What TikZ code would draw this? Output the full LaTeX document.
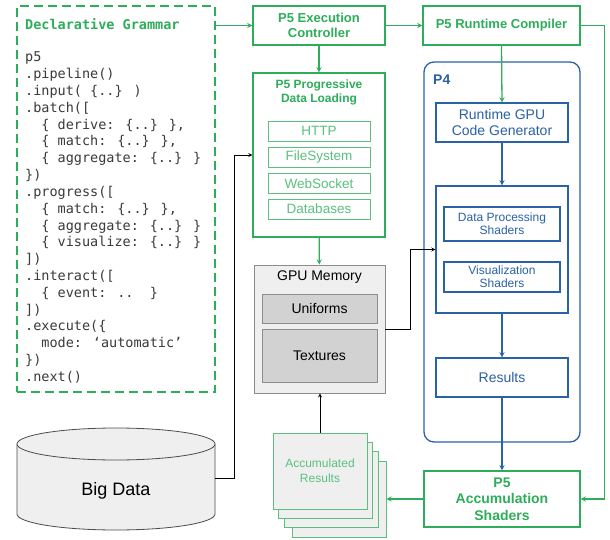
\documentclass[tikz,border=0pt]{standalone}
\usepackage{fontspec}
\setmainfont{Liberation Sans}
\newfontfamily\codefont{DejaVu Sans Mono}
\usepackage{xcolor}
\usepackage{tikz}
\usetikzlibrary{arrows,positioning,calc}

\definecolor{pfgreen}{HTML}{2EAD5B}
\definecolor{pflight}{HTML}{5BC07E}
\definecolor{pfblue}{HTML}{2A62A6}
\definecolor{codegray}{HTML}{3A3A3A}
\definecolor{memfill}{HTML}{EFEFEF}
\definecolor{memdark}{HTML}{D2D2D2}

\begin{document}
\begin{tikzpicture}[
  x=1pt, y=-1pt,
  gbox/.style={draw=pfgreen, line width=1.3pt, fill=white, inner sep=0pt, align=center, text=pfgreen, font=\fontsize{13}{15}\selectfont\bfseries},
  src/.style={draw=pflight, line width=0.8pt, minimum width=102, minimum height=20, inner sep=0pt, text=pflight, font=\fontsize{13.5}{16}\selectfont},
  bbox/.style={draw=pfblue, line width=1.2pt, fill=white, inner sep=0pt, align=center, text=pfblue, font=\fontsize{14}{16.7}\selectfont},
  shd/.style={bbox, font=\fontsize{12}{13.3}\selectfont},
  membox/.style={draw=black!45, line width=0.8pt, fill=memdark, inner sep=0pt, minimum width=115, font=\fontsize{14}{16}\selectfont},
  paper/.style={draw=pflight, line width=0.9pt, fill=memfill, minimum width=94, minimum height=76, inner sep=0pt},
  code/.style={anchor=base west, inner sep=0pt, text=codegray, font=\codefont\fontsize{13.5}{16.8}\selectfont},
  garrow/.style={->, >=stealth, draw=pfgreen, line width=1.3pt},
  barrow/.style={->, >=stealth, draw=pfblue, line width=1.3pt},
  karrow/.style={->, >=stealth, line width=0.8pt}
]
  \useasboundingbox (0,0) rectangle (610,540);

  % Grammar listing
  \node[draw=pfgreen, line width=1.3pt, dash pattern=on 9pt off 5pt, minimum width=198, minimum height=386, inner sep=0pt] (gram) at (116,199) {};
  \node[anchor=west, inner sep=0pt, text=pfgreen, font=\codefont\bfseries\fontsize{13.5}{16}\selectfont] (gramtitle) at (25,24) {Declarative Grammar};
  \foreach \i/\ln in {0/p5, 1/.pipeline(), 2/{.input( \{..\} )}, 3/{.batch([},
      4/{\phantom{xx}\{ derive: \{..\} \},}, 5/{\phantom{xx}\{ match: \{..\} \},},
      6/{\phantom{xx}\{ aggregate: \{..\} \}}, 7/{\})}, 8/{.progress([},
      9/{\phantom{xx}\{ match: \{..\} \},}, 10/{\phantom{xx}\{ aggregate: \{..\} \}},
      11/{\phantom{xx}\{ visualize: \{..\} \}}, 12/{])}, 13/{.interact([},
      14/{\phantom{xx}\{ event: ..\phantom{xx}\}}, 15/{])}, 16/{.execute(\{},
      17/{\phantom{xx}mode: ‘automatic’}, 18/{\})}, 19/.next()} {
    \node[code] (ln\i) at (25,{62+16.8*\i}) {\ln};
  }

  % Top row
  \node[gbox, minimum width=132, minimum height=39] (exec) at (319,25.5) {P5 Execution\\Controller};
  \node[gbox, minimum width=157, minimum height=39] (comp) at (501.5,25.5) {P5 Runtime Compiler};

  % Progressive data loading
  \node[gbox, minimum width=132, minimum height=164] (load) at (319,155) {};
  \node[align=center, inner sep=0pt, text=pfgreen, font=\fontsize{12}{14}\selectfont\bfseries] (loadtitle) at (319,92) {P5 Progressive\\Data Loading};
  \foreach \y/\n/\t in {131/http/HTTP, 157.5/fs/FileSystem, 183.5/ws/WebSocket, 209/db/Databases}
    \node[src] (\n) at (319,\y) {\t};

  % GPU memory
  \node[draw=black!45, line width=0.8pt, fill=memfill, minimum width=131, minimum height=128, inner sep=0pt] (gpu) at (319.5,329) {};
  \node[inner sep=0pt, font=\fontsize{14}{16}\selectfont] (gpulabel) at (319.5,277) {GPU Memory};
  \node[membox, minimum height=29] (unif) at (319.5,308.5) {Uniforms};
  \node[membox, minimum height=53] (tex) at (319.5,355.5) {Textures};

  % P4 block
  \node[draw=pfblue, line width=1.3pt, rounded corners=10pt, minimum width=156, minimum height=380, inner sep=0pt] (p4) at (502,252) {};
  \node[anchor=west, inner sep=0pt, text=pfblue, font=\fontsize{14}{16}\selectfont\bfseries] (p4label) at (433,80) {P4};
  \node[bbox, minimum width=132, minimum height=39] (codegen) at (502,122.5) {Runtime GPU\\Code Generator};
  \node[bbox, minimum width=132, minimum height=127] (shaders) at (502,249.5) {};
  \node[shd, minimum width=116, minimum height=34] (dps) at (502,224) {Data Processing\\Shaders};
  \node[shd, minimum width=116, minimum height=30] (vis) at (502,277) {Visualization\\Shaders};
  \node[bbox, minimum width=132, minimum height=39] (results) at (502,377.5) {Results};

  % Accumulation
  \node[gbox, minimum width=156, minimum height=56, font=\fontsize{14}{16.7}\selectfont\bfseries] (accum) at (502,499) {P5\\Accumulation\\Shaders};
  \foreach \dx/\dy/\n in {19/28/c, 11/18/b, 5/9/a}
    \node[paper] (stack\n) at ({320+\dx},{471+\dy}) {};
  \node[paper, align=center, text=pflight, font=\fontsize{12}{14.7}\selectfont] (stack) at (320,471) {Accumulated\\Results};

  % Big data store
  \fill[memfill] (17,444) -- (17,514) arc[start angle=180, end angle=360, x radius=99pt, y radius=16pt] -- (215,444) -- cycle;
  \draw[line width=0.8pt, black!70] (17,444) -- (17,514) arc[start angle=180, end angle=360, x radius=99pt, y radius=16pt] -- (215,444);
  \draw[line width=0.8pt, black!70, fill=memfill] (116,444) ellipse[x radius=99pt, y radius=16pt];
  \node[inner sep=0pt, font=\fontsize{18}{20}\selectfont] (bigdata) at (116,491) {Big Data};
  \coordinate (dbout) at (215,478);

  % Green flow
  \draw[garrow] (gram.north east |- exec.west) -- (exec.west);
  \draw[garrow] (exec) -- (comp);
  \draw[garrow] (exec) -- (load);
  \draw[garrow] (load) -- (gpu);
  \draw[garrow] (comp.south) -- (codegen.north);
  \draw[garrow] (comp.east) -- ++(24,0) |- (accum.east);
  \draw[garrow] (accum.west) -- (stackc.east);

  % Blue flow
  \draw[barrow] (codegen) -- (shaders);
  \draw[barrow] (shaders) -- (results);
  \draw[barrow] (results) -- (accum);

  % Black links
  \draw[karrow] (dbout) -- ++(19,0) |- (load.west);
  \draw[karrow] (gpu.east) -| ($(gpu.east)!.5!(shaders.west)$) |- (shaders.west);
  \draw[karrow] (stack.north) -- (stack.north |- gpu.south);
\end{tikzpicture}
\end{document}
